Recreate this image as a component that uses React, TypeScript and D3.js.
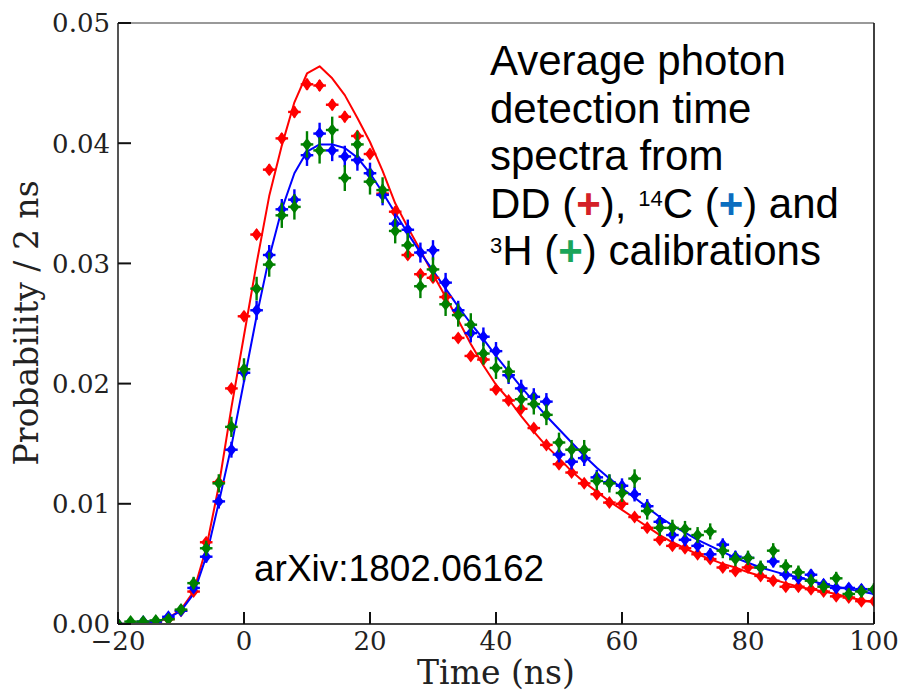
import React from 'react';
import * as d3 from 'd3';

const timeNs = [-20,-18,-16,-14,-12,-10,-8,-6,-4,-2,0,2,4,6,8,10,12,14,16,18,20,22,24,26,28,30,32,34,36,38,40,42,44,46,48,50,52,54,56,58,60,62,64,66,68,70,72,74,76,78,80,82,84,86,88,90,92,94,96,98,100];

const ddPoints = [0.0000,0.0000,0.0001,0.0002,0.0004,0.0011,0.0027,0.0068,0.0118,0.0196,0.0256,0.0324,0.0378,0.0404,0.0426,0.0449,0.0448,0.0432,0.0422,0.0406,0.0391,0.0358,0.0343,0.0307,0.0291,0.0288,0.0272,0.0238,0.0223,0.0220,0.0195,0.0186,0.0179,0.0163,0.0149,0.0133,0.0126,0.0117,0.0108,0.0101,0.0100,0.0089,0.0080,0.0070,0.0065,0.0063,0.0058,0.0054,0.0047,0.0044,0.0047,0.0040,0.0036,0.0031,0.0031,0.0029,0.0027,0.0023,0.0022,0.0019,0.0019];

const c14Points = [0.0000,0.0000,0.0002,0.0002,0.0006,0.0011,0.0030,0.0056,0.0102,0.0145,0.0209,0.0261,0.0307,0.0345,0.0353,0.0390,0.0408,0.0394,0.0389,0.0386,0.0375,0.0357,0.0333,0.0328,0.0309,0.0311,0.0284,0.0261,0.0242,0.0239,0.0227,0.0207,0.0196,0.0189,0.0185,0.0141,0.0135,0.0138,0.0122,0.0118,0.0115,0.0108,0.0098,0.0085,0.0074,0.0070,0.0065,0.0058,0.0066,0.0056,0.0055,0.0047,0.0052,0.0041,0.0038,0.0041,0.0033,0.0030,0.0030,0.0029,0.0028];

const h3Points = [0.0000,0.0002,0.0002,0.0003,0.0004,0.0012,0.0034,0.0063,0.0117,0.0164,0.0212,0.0279,0.0299,0.0340,0.0347,0.0399,0.0394,0.0411,0.0371,0.0399,0.0368,0.0361,0.0327,0.0315,0.0281,0.0295,0.0266,0.0257,0.0249,0.0225,0.0213,0.0210,0.0187,0.0183,0.0174,0.0151,0.0145,0.0145,0.0119,0.0117,0.0109,0.0121,0.0094,0.0080,0.0080,0.0079,0.0074,0.0077,0.0061,0.0054,0.0055,0.0047,0.0061,0.0048,0.0043,0.0036,0.0031,0.0038,0.0025,0.0027,0.0029];

const ddFit = [0.0000,0.0000,0.0001,0.0002,0.0005,0.0012,0.0027,0.0063,0.0115,0.0180,0.0240,0.0300,0.0356,0.0398,0.0434,0.0458,0.0464,0.0454,0.0440,0.0421,0.0401,0.0377,0.0350,0.0330,0.0311,0.0291,0.0272,0.0253,0.0233,0.0215,0.0199,0.0187,0.0173,0.0160,0.0148,0.0138,0.0127,0.0118,0.0110,0.0102,0.0095,0.0088,0.0081,0.0074,0.0068,0.0063,0.0058,0.0054,0.0050,0.0047,0.0043,0.0040,0.0037,0.0034,0.0031,0.0029,0.0027,0.0025,0.0022,0.0020,0.0018];

const c14Fit = [0.0000,0.0000,0.0001,0.0002,0.0005,0.0011,0.0025,0.0056,0.0101,0.0148,0.0202,0.0256,0.0305,0.0345,0.0375,0.0393,0.0399,0.0399,0.0396,0.0388,0.0375,0.0359,0.0342,0.0325,0.0309,0.0294,0.0279,0.0264,0.0250,0.0237,0.0223,0.0210,0.0197,0.0185,0.0173,0.0162,0.0151,0.0140,0.0130,0.0121,0.0113,0.0105,0.0097,0.0089,0.0082,0.0076,0.0070,0.0065,0.0060,0.0055,0.0051,0.0047,0.0044,0.0041,0.0039,0.0036,0.0033,0.0031,0.0029,0.0027,0.0025];

const yTicks = [0, 0.01, 0.02, 0.03, 0.04, 0.05];
const yTickLabels = ['0.00', '0.01', '0.02', '0.03', '0.04', '0.05'];
const xTicks = [-20, 0, 20, 40, 60, 80, 100];
const xTickLabels = ['\u221220', '0', '20', '40', '60', '80', '100'];

const seriesStyle = [
  { key: 'dd', data: ddPoints, color: '#ff0000', errK: 0.00118 },
  { key: 'c14', data: c14Points, color: '#0000ff', errK: 0.00236 },
  { key: 'h3', data: h3Points, color: '#008000', errK: 0.00289 },
];

const SERIF = '"DejaVu Serif", serif';
const SANS = '"Liberation Sans", Arial, sans-serif';

export default function App() {
  const W = 900, H = 691;
  const left = 118, right = 874, top = 23, bottom = 624;
  const x = d3.scaleLinear().domain([-20, 100]).range([left, right]);
  const y = d3.scaleLinear().domain([0, 0.05]).range([bottom, top]);
  const line = d3.line<number>().x((_, i) => x(timeNs[i])).y((d) => y(d));
  const halfBin = x(1) - x(0);

  const marker = (t: number, v: number, color: string, k: number, idx: number) => {
    const cx = x(t), cy = y(v);
    const err = k * Math.pow(Math.max(v, 0.00005), 0.3);
    const ey = y(v - err) - cy;
    const dw = 5, dh = 6.5;
    return (
      <g key={idx}>
        <line x1={cx - halfBin} x2={cx + halfBin} y1={cy} y2={cy} stroke={color} strokeWidth={2.4} />
        <line x1={cx} x2={cx} y1={cy - ey} y2={cy + ey} stroke={color} strokeWidth={2.4} />
        <path d={`M${cx},${cy - dh}L${cx + dw},${cy}L${cx},${cy + dh}L${cx - dw},${cy}Z`} fill={color} />
      </g>
    );
  };

  return (
    <svg width={W} height={H} style={{ position: 'absolute', left: 0, top: 0, background: '#fff' }}>
      <defs>
        <clipPath id="plotclip">
          <rect x={left} y={top} width={right - left} height={bottom - top} />
        </clipPath>
      </defs>
      <rect x={0} y={0} width={W} height={H} fill="#fff" />

      <g clipPath="url(#plotclip)">
        <path d={line(ddFit) || ''} fill="none" stroke="#ff0000" strokeWidth={2} strokeLinejoin="round" />
        <path d={line(c14Fit) || ''} fill="none" stroke="#0000ff" strokeWidth={2} strokeLinejoin="round" />
        {seriesStyle.map((s) => (
          <g key={s.key}>
            {s.data.map((v, i) => marker(timeNs[i], v, s.color, s.errK, i))}
          </g>
        ))}
      </g>

      {/* spines */}
      <line x1={left} x2={right} y1={top} y2={top} stroke="#999" strokeWidth={2} />
      <line x1={right} x2={right} y1={top} y2={bottom} stroke="#111" strokeWidth={1.6} />
      <line x1={left} x2={left} y1={top} y2={bottom} stroke="#555" strokeWidth={2} />
      <line x1={left} x2={right} y1={bottom} y2={bottom} stroke="#444" strokeWidth={2} />

      {/* y ticks */}
      {yTicks.map((t, i) => (
        <g key={'y' + i}>
          <line x1={left} x2={left + 13} y1={y(t)} y2={y(t)} stroke="#111" strokeWidth={2} />
          <text x={left - 8} y={y(t)} dy="0.36em" textAnchor="end" fontFamily={SERIF} fontSize={26} fill="#222">
            {yTickLabels[i]}
          </text>
        </g>
      ))}
      {/* x ticks */}
      {xTicks.map((t, i) => (
        <g key={'x' + i}>
          <line x1={x(t)} x2={x(t)} y1={bottom} y2={bottom - 12} stroke="#111" strokeWidth={2} />
          <text x={x(t)} y={650} textAnchor="middle" fontFamily={SERIF} fontSize={26} fill="#222">
            {xTickLabels[i]}
          </text>
        </g>
      ))}

      <text x={(left + right) / 2} y={684} textAnchor="middle" fontFamily={SERIF} fontSize={33} fill="#222">
        Time (ns)
      </text>
      <text transform={`translate(38,${323}) rotate(-90)`} textAnchor="middle" fontFamily={SERIF} fontSize={33} fill="#222">
        Probability / 2 ns
      </text>

      <g fontFamily={SANS} fontSize={42} fill="#000">
        <text x={490} y={75}>Average photon</text>
        <text x={490} y={123}>detection time</text>
        <text x={490} y={170}>spectra from</text>
        <text x={490} y={218}>
          DD (<tspan fill="#d42027" fontWeight="bold">+</tspan>),{' '}
          <tspan fontSize={22} dy={-12}>14</tspan>
          <tspan dy={12}>C (</tspan>
          <tspan fill="#0b6dbf" fontWeight="bold">+</tspan>) and
        </text>
        <text x={490} y={265}>
          <tspan fontSize={22} dy={-12}>3</tspan>
          <tspan dy={12}>H (</tspan>
          <tspan fill="#1aa55a" fontWeight="bold">+</tspan>) calibrations
        </text>
      </g>

      <text x={254} y={581} fontFamily={SANS} fontSize={37} fill="#000">arXiv:1802.06162</text>
    </svg>
  );
}
